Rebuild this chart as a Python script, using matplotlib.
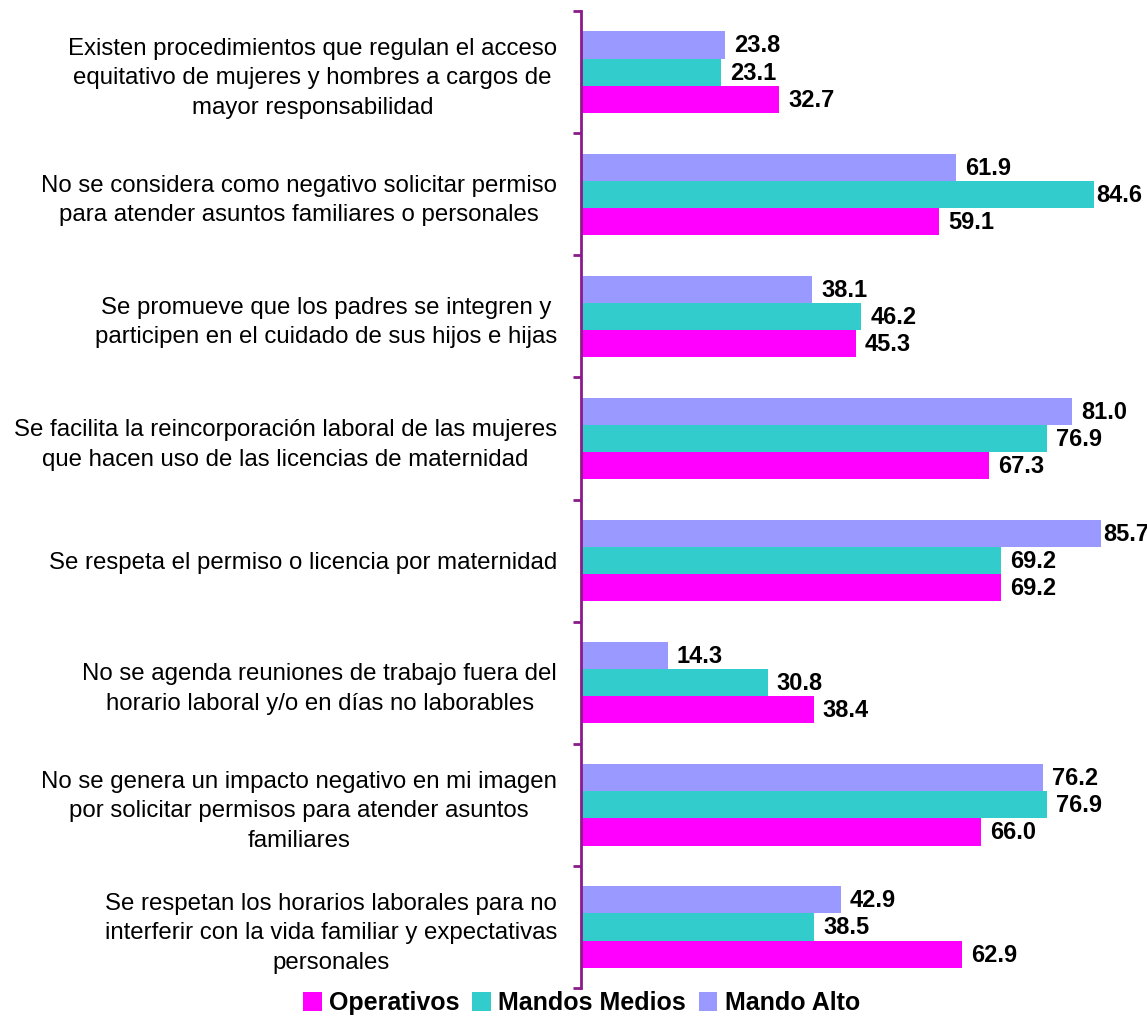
import numpy as np
import matplotlib
matplotlib.use("Agg")
import matplotlib.pyplot as plt

plt.rcParams['font.family'] = ['Liberation Sans', 'DejaVu Sans']

# Data
categories = [
    "Existen procedimientos que regulan el acceso\nequitativo de mujeres y hombres a cargos de\nmayor responsabilidad",
    "No se considera como negativo solicitar permiso\npara atender asuntos familiares o personales",
    "Se promueve que los padres se integren y\nparticipen en el cuidado de sus hijos e hijas",
    "Se facilita la reincorporación laboral de las mujeres\nque hacen uso de las licencias de maternidad",
    "Se respeta el permiso o licencia por maternidad",
    "No se agenda reuniones de trabajo fuera del\nhorario laboral y/o en días no laborables",
    "No se genera un impacto negativo en mi imagen\npor solicitar permisos para atender asuntos\nfamiliares",
    "Se respetan los horarios laborales para no\ninterferir con la vida familiar y expectativas\npersonales",
]
operativos = [32.7, 59.1, 45.3, 67.3, 69.2, 38.4, 66.0, 62.9]
mandos_medios = [23.1, 84.6, 46.2, 76.9, 69.2, 30.8, 76.9, 38.5]
mando_alto = [23.8, 61.9, 38.1, 81.0, 85.7, 14.3, 76.2, 42.9]

series = [
    ("Operativos", operativos, "#FF00FF", 0.222),
    ("Mandos Medios", mandos_medios, "#33CCCC", 0.0),
    ("Mando Alto", mando_alto, "#9999FF", -0.222),
]

fig = plt.figure(figsize=(11.47, 10.29), dpi=100)
ax = fig.add_axes([0.5063, 0.0398, 0.4937, 0.9495])

pos = np.arange(len(categories))
bar_h = 0.222
for name, vals, color, off in series:
    bars = ax.barh(pos + off, vals, height=bar_h, color=color, label=name)
    for b, v in zip(bars, vals):
        # labels near the right edge sit tight against the bar end
        dx = 9 if v < 84 else 2
        ax.annotate(f"{v:.1f}", (b.get_width(), b.get_y() + b.get_height() / 2),
                    xytext=(dx, -1), textcoords="offset pixels",
                    ha="left", va="center", fontsize=17, fontweight="bold")

ax.set_xlim(0, 93.3)
ax.set_ylim(len(categories) - 0.5, -0.5)

for s in ["top", "right", "bottom"]:
    ax.spines[s].set_visible(False)
ax.spines["left"].set_color("#8B1A8B")
ax.spines["left"].set_linewidth(2)
ax.set_xticks([])

ax.set_yticks(np.arange(len(categories) + 1) - 0.5)
ax.set_yticklabels([])
ax.tick_params(axis="y", which="major", length=6, width=2, color="#8B1A8B")
ax.set_yticks(pos, minor=True)
ax.set_yticklabels(categories, minor=True, fontsize=17.3, multialignment="center",
                   linespacing=1.45)
ax.tick_params(axis="y", which="minor", length=0, pad=17)

handles, labels = ax.get_legend_handles_labels()
fig.legend(handles, labels, loc="center", bbox_to_anchor=(0.507, 0.025), ncol=3,
           frameon=False, handlelength=0.75, handleheight=0.75, handletextpad=0.3,
           columnspacing=0.5, prop={"weight": "bold", "size": 18})

fig.savefig("out.png", dpi=100)
